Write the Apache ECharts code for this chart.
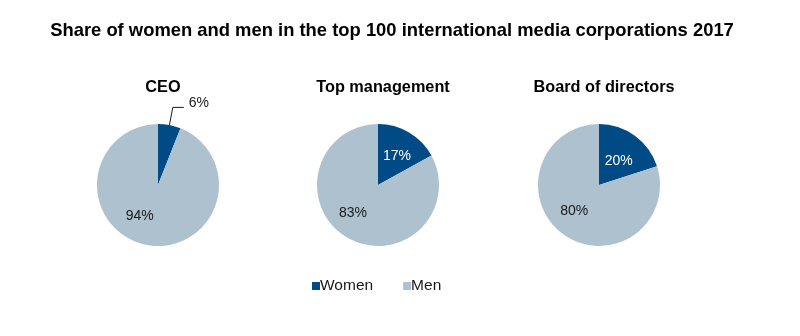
<!DOCTYPE html>
<html>
<head>
<meta charset="utf-8">
<script src="https://cdn.jsdelivr.net/npm/echarts@6/dist/echarts.min.js"></script>
<style>
  html, body { margin: 0; padding: 0; background: #fff; }
  #chart { width: 800px; height: 336px; }
</style>
</head>
<body>
<div id="chart"></div>
<script>
// Share of women and men (percent) in the top 100 international media corporations, 2017
const groups = ['Women', 'Men'];
const panels = ['CEO', 'Top management', 'Board of directors'];
const ceo = [6, 94];
const topManagement = [17, 83];
const boardOfDirectors = [20, 80];

const colors = { Women: '#004b85', Men: '#adc1ce' };
const font = 'Liberation Sans, Arial, sans-serif';
const centersX = [158, 378, 599];
const values = [ceo, topManagement, boardOfDirectors];

// per-panel nudges for the inside labels
const womenOffsets = [[0, 0], [2, 0], [0, 3]];
const menOffsets = [[-12, -2], [-8, -1], [-5, -1]];

const series = values.map(function (vals, p) {
  return {
    type: 'pie',
    name: panels[p],
    center: [centersX[p], 185],
    radius: 61,
    startAngle: 90,
    clockwise: true,
    silent: true,
    animation: false,
    label: {
      position: 'inside',
      formatter: '{c}%',
      fontFamily: font,
      fontSize: 14,
      color: '#1a1a1a'
    },
    labelLine: { show: false },
    data: groups.map(function (g, i) {
      const item = { name: g, value: vals[i], itemStyle: { color: colors[g] } };
      if (g === 'Women') {
        if (p === 0) {
          // small slice: label sits outside with a leader line
          item.label = {
            position: 'outside', color: '#1a1a1a', distanceToLabelLine: 3,
            align: 'left', offset: [2, -4]
          };
          item.labelLine = { show: true, length: 18, length2: 11, lineStyle: { color: '#1a1a1a', width: 1 } };
        } else {
          item.label = { color: '#ffffff', offset: womenOffsets[p] };
        }
      } else {
        item.label = { offset: menOffsets[p] };
      }
      return item;
    })
  };
});

const titles = [{
  text: 'Share of women and men in the top 100 international media corporations 2017',
  left: 387, top: 17, textAlign: 'center',
  textStyle: { fontFamily: font, fontSize: 18.4, fontWeight: 'bold', color: '#000' }
}].concat(panels.map(function (t, p) {
  return {
    text: t, left: centersX[p], top: 75, textAlign: 'center',
    textStyle: { fontFamily: font, fontSize: 16.3, fontWeight: 'bold', color: '#000' }
  };
}));

const chart = echarts.init(document.getElementById('chart'), null, { renderer: 'canvas' });
chart.setOption({
  animation: false,
  title: titles,
  legend: {
    data: groups,
    left: 307, top: 273,
    icon: 'rect',
    itemWidth: 8, itemHeight: 8,
    itemGap: 30,
    selectedMode: false,
    textStyle: { fontFamily: font, fontSize: 15.5, color: '#1a1a1a', padding: [0, 0, 0, -5] }
  },
  series: series
});
</script>
</body>
</html>
